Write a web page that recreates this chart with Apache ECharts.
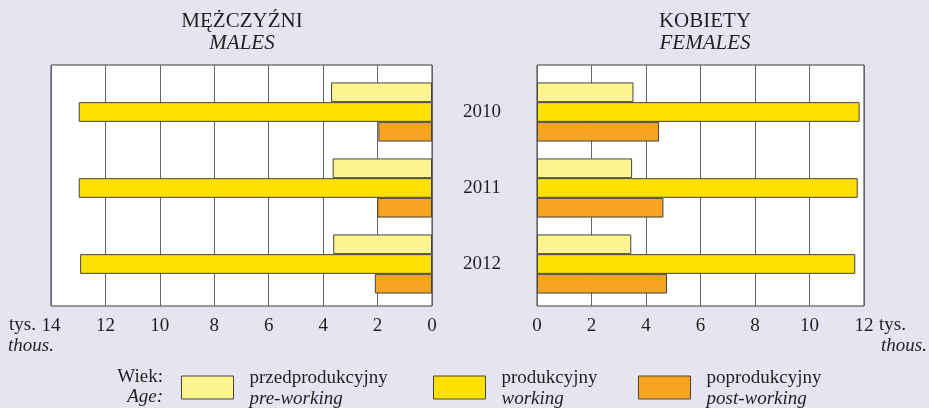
<!DOCTYPE html>
<html>
<head>
<meta charset="utf-8">
<script src="https://cdn.jsdelivr.net/npm/echarts@6/dist/echarts.min.js"></script>
<style>
  html, body { margin: 0; padding: 0; background: #e6e4f1; }
  #chart { width: 929px; height: 408px; }
</style>
</head>
<body>
<div id="chart"></div>
<script>
var years = ['2010', '2011', '2012'];
// tys. osób / thousands
var malePre = [3.71, 3.65, 3.63];
var maleWork = [12.98, 12.98, 12.93];
var malePost = [1.97, 2.01, 2.10];
var femalePre = [3.54, 3.49, 3.46];
var femaleWork = [11.84, 11.77, 11.68];
var femalePost = [4.48, 4.64, 4.77];

var groupsPl = ['przedprodukcyjny', 'produkcyjny', 'poprodukcyjny'];
var groupsEn = ['pre-working', 'working', 'post-working'];
var colors = ['#fff48f', '#ffe100', '#f7a520'];

var font = 'Liberation Serif';
var textColor = '#231f20';

var myChart = echarts.init(document.getElementById('chart'));

function frameAxis(max, inverse, gridIndex) {
    return {
        type: 'value', gridIndex: gridIndex, min: 0, max: max, interval: 2, inverse: inverse,
        axisLine: { show: false },
        axisTick: { show: false },
        splitLine: { show: true, lineStyle: { color: '#666', width: 1 } },
        axisLabel: { margin: 11, color: textColor, fontFamily: font, fontSize: 19 }
    };
}

function barSeries(name, data, idx, gridNo) {
    return {
        name: name,
        type: 'bar',
        xAxisIndex: gridNo,
        yAxisIndex: gridNo,
        barWidth: 19.7,
        barGap: '0%',
        itemStyle: { color: colors[idx], borderColor: '#444', borderWidth: 1 },
        data: data
    };
}

function legendFor(i, left) {
    return {
        left: left, top: 369,
        padding: 0,
        selectedMode: false,
        icon: 'rect',
        itemWidth: 52, itemHeight: 23,
        itemStyle: { borderColor: '#444', borderWidth: 1 },
        data: [groupsPl[i]],
        formatter: function (name) {
            return '{a|' + name + '}\n{b|' + groupsEn[groupsPl.indexOf(name)] + '}';
        },
        textStyle: {
            padding: [2, 0, 0, 11],
            rich: {
                a: { fontFamily: font, fontSize: 19, lineHeight: 20, color: textColor },
                b: { fontFamily: font, fontSize: 19, lineHeight: 20, fontStyle: 'italic', color: textColor }
            }
        }
    };
}

function txt(text, x, y, align, italic) {
    return {
        type: 'text', x: x, y: y,
        style: {
            text: text, align: align, verticalAlign: 'middle', fill: textColor,
            font: (italic ? 'italic ' : '') + '19px "' + font + '"'
        }
    };
}

function panelTitle(pl, en, x) {
    return {
        text: pl, subtext: en, left: x, top: 11, textAlign: 'center', itemGap: 1, padding: 0,
        textStyle: { fontFamily: font, fontSize: 21, fontWeight: 'normal', color: textColor, lineHeight: 21 },
        subtextStyle: { fontFamily: font, fontSize: 21, fontStyle: 'italic', color: textColor, lineHeight: 21 }
    };
}

myChart.setOption({
    backgroundColor: '#e6e4f1',
    animation: false,
    title: [panelTitle('MĘŻCZYŹNI', 'MALES', 242), panelTitle('KOBIETY', 'FEMALES', 705)],
    grid: [
        // frames with grid lines
        { left: 51, top: 65, width: 381, height: 241, show: true, backgroundColor: '#fff', borderColor: '#3c3c3c', borderWidth: 1 },
        { left: 537, top: 65, width: 327, height: 241, show: true, backgroundColor: '#fff', borderColor: '#3c3c3c', borderWidth: 1 },
        // bars
        { left: 51, top: 74, width: 381, height: 228 },
        { left: 537, top: 74, width: 327, height: 228 }
    ],
    xAxis: [
        frameAxis(14, true, 0),
        frameAxis(12, false, 1),
        { type: 'value', gridIndex: 2, min: 0, max: 14, inverse: true, show: false },
        { type: 'value', gridIndex: 3, min: 0, max: 12, show: false }
    ],
    yAxis: [
        { type: 'value', gridIndex: 0, min: 0, max: 1, show: false },
        { type: 'value', gridIndex: 1, min: 0, max: 1, show: false },
        { type: 'category', gridIndex: 2, data: years, inverse: true, show: false },
        {
            type: 'category', gridIndex: 3, data: years, inverse: true,
            axisLine: { show: false }, axisTick: { show: false },
            axisLabel: { margin: 55, align: 'center', color: textColor, fontFamily: font, fontSize: 19 }
        }
    ],
    legend: [legendFor(0, 181), legendFor(1, 433), legendFor(2, 638)],
    graphic: [
        txt('tys.', 9, 325, 'left', false),
        txt('thous.', 8, 346, 'left', true),
        txt('tys.', 879, 325, 'left', false),
        txt('thous.', 927, 346, 'right', true),
        txt('Wiek:', 163, 377, 'right', false),
        txt('Age:', 163, 397, 'right', true)
    ],
    series: [
        barSeries(groupsPl[0], malePre, 0, 2),
        barSeries(groupsPl[1], maleWork, 1, 2),
        barSeries(groupsPl[2], malePost, 2, 2),
        barSeries(groupsPl[0], femalePre, 0, 3),
        barSeries(groupsPl[1], femaleWork, 1, 3),
        barSeries(groupsPl[2], femalePost, 2, 3)
    ]
});
</script>
</body>
</html>
